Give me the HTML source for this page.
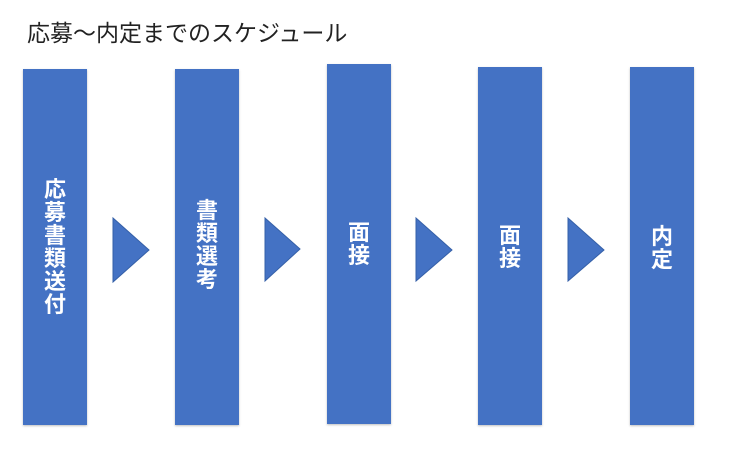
<!DOCTYPE html>
<html><head><meta charset="utf-8"><style>
body{margin:0;width:747px;height:458px;background:#fff;position:relative;overflow:hidden;font-family:"Liberation Sans","Noto Sans CJK JP",sans-serif}
.t{position:absolute;left:27px;top:20px;font-size:23px;line-height:26px;color:#222;white-space:nowrap}
.b{position:absolute;background:#4472c4;width:64px;box-shadow:0 1px 2px rgba(0,0,0,.25)}
.x{position:absolute;width:64px;text-align:center;color:#fff;font-size:22px;line-height:23px;font-weight:bold}
svg{position:absolute;left:0;top:0}
</style></head><body>
<div class="t">応募〜内定までのスケジュール</div>
<div class="b" style="left:23px;top:69px;height:356px"></div>
<div class="b" style="left:175px;top:69px;height:356px"></div>
<div class="b" style="left:327px;top:64px;height:360px"></div>
<div class="b" style="left:478px;top:67px;height:358px"></div>
<div class="b" style="left:630px;top:67px;height:358px"></div>
<div class="x" style="left:23px;top:178px">応<br>募<br>書<br>類<br>送<br>付</div>
<div class="x" style="left:175px;top:199px">書<br>類<br>選<br>考</div>
<div class="x" style="left:327px;top:221px">面<br>接</div>
<div class="x" style="left:478px;top:224px">面<br>接</div>
<div class="x" style="left:630px;top:225px">内<br>定</div>
<svg width="747" height="458">
<g fill="#4472c4" stroke="#3560a8" stroke-width="1">
<polygon points="113,218 149,250 113,282"/>
<polygon points="265,218 300,249 265,281"/>
<polygon points="416,218 452,250 416,281"/>
<polygon points="568,218 604,250 568,281"/>
</g></svg>
</body></html>
